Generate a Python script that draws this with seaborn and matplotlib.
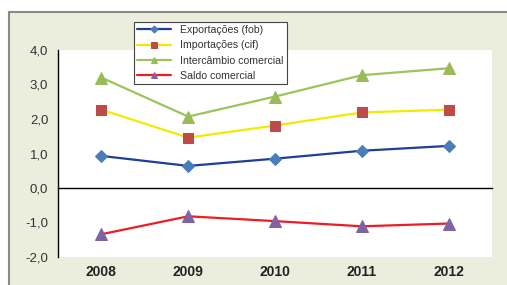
import numpy as np
import pandas as pd
import matplotlib
matplotlib.use("Agg")
import matplotlib.pyplot as plt
from matplotlib.patches import Rectangle
from matplotlib.lines import Line2D
import seaborn as sns

# Dados (mil milhões)
anos = ["2008", "2009", "2010", "2011", "2012"]
exportacoes = [0.93, 0.64, 0.85, 1.08, 1.22]
importacoes = [2.27, 1.46, 1.81, 2.19, 2.27]
intercambio = [3.20, 2.07, 2.65, 3.27, 3.47]
saldo = [-1.34, -0.82, -0.96, -1.11, -1.03]

nomes = ["Exportações (fob)", "Importações (cif)", "Intercâmbio comercial", "Saldo comercial"]

sns.set_style("white")
plt.rcParams["font.family"] = ["Liberation Sans", "DejaVu Sans"]

fig = plt.figure(figsize=(5.07, 2.85), dpi=100)
fig.patch.set_facecolor("white")

# moldura exterior
W, H = 507, 285
fig.add_artist(Rectangle((9 / W, 0), 1, (H - 12) / H, transform=fig.transFigure,
                         facecolor="#EBEEDC", edgecolor="none", zorder=0))
fig.add_artist(Line2D([9 / W, 9 / W], [0, (H - 12) / H], transform=fig.transFigure,
                      color="#8A8A82", lw=1.5))
fig.add_artist(Line2D([9 / W, 1], [(H - 12) / H, (H - 12) / H], transform=fig.transFigure,
                      color="#8A8A82", lw=1.5))

ax = fig.add_axes([58 / W, (H - 257) / H, (492 - 58) / W, (257 - 50) / H])
ax.set_facecolor("white")

x = np.arange(len(anos))
series = [
    (exportacoes, "#1F3D99", "D", "#4A7EBB", 6),
    (importacoes, "#F2EA00", "s", "#BE4B48", 7),
    (intercambio, "#9BC45A", "^", "#9BBB59", 8),
    (saldo, "#EE1C25", "^", "#8064A2", 8),
]
for (vals, cor, mk, mcor, ms), nome in zip(series, nomes):
    sns.lineplot(x=x, y=vals, ax=ax, color=cor, lw=1.6, marker=mk, markersize=ms,
                 markerfacecolor=mcor, markeredgecolor=mcor, label=nome)

if ax.get_legend() is not None:
    ax.get_legend().remove()

ax.set_xlim(-0.5, len(anos) - 0.5)
ax.set_ylim(-2, 4)
ax.set_yticks(np.arange(-2, 4.1, 1))
ax.set_yticklabels([f"{v:.1f}".replace(".", ",") for v in np.arange(-2, 4.1, 1)],
                   fontsize=9.5, color="#333333")
ax.set_xticks(np.arange(len(anos)) + 0.5)
ax.set_xticklabels([])
ax.tick_params(axis="both", direction="out", length=3, width=1, color="black")
ax.tick_params(axis="y", pad=4)

for s in ["top", "right"]:
    ax.spines[s].set_visible(False)
ax.spines["bottom"].set_position(("data", 0))
ax.spines["bottom"].set_color("black")
ax.spines["bottom"].set_linewidth(1)
ax.spines["left"].set_color("black")
ax.spines["left"].set_linewidth(1)
ax.set_xlabel("")
ax.set_ylabel("")

sec = ax.secondary_xaxis("bottom")
sec.set_xticks(x)
sec.set_xticklabels(anos, fontsize=10, fontweight="bold", color="#222222")
sec.tick_params(length=0, pad=6)
sec.spines["bottom"].set_visible(False)

# legenda
handles, labels = ax.get_legend_handles_labels()
leg = fig.legend(handles, labels, loc="upper left",
                 bbox_to_anchor=(134 / W, (H - 22) / H), borderaxespad=0,
                 fontsize=7.6, frameon=True, fancybox=False, markerscale=0.6,
                 handlelength=3.2, handletextpad=0.9, labelspacing=0.5,
                 borderpad=0.3, edgecolor="#444444", framealpha=1)
leg.get_frame().set_linewidth(0.8)
for t in leg.get_texts():
    t.set_color("#333333")

fig.savefig("out.png", dpi=100)
